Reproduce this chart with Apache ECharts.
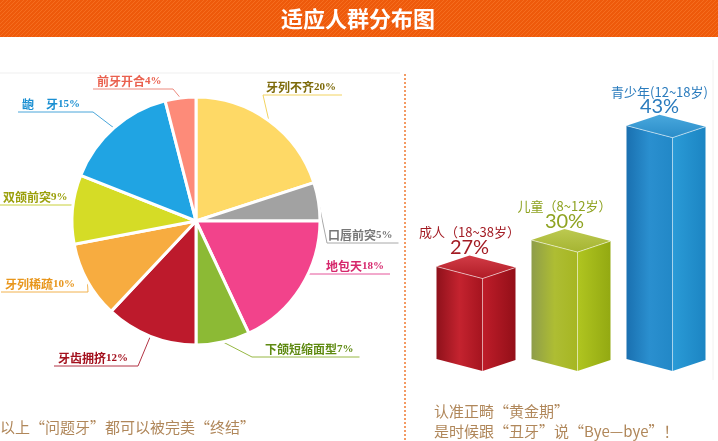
<!DOCTYPE html>
<html>
<head>
<meta charset="utf-8">
<script src="https://cdn.jsdelivr.net/npm/echarts@6/dist/echarts.min.js"></script>
<style>
  html, body { margin: 0; padding: 0; background: #fff; }
  #chart { width: 718px; height: 441px; }
</style>
</head>
<body>
<div id="chart"></div>
<script>
// --- Data ---
const pieNames = ['牙列不齐', '口唇前突', '地包天', '下颌短缩面型', '牙齿拥挤', '牙列稀疏', '双颌前突', '龅　牙', '前牙开合'];
const pieValues = [20, 5, 18, 7, 12, 10, 9, 15, 4];
const ageGroups = ['成人（18~38岁）', '儿童（8~12岁）', '青少年(12~18岁)'];
const ageValues = [27, 30, 43];

// --- Pie styling ---
const sliceColors = ['#fed966', '#a2a2a2', '#f2438b', '#8cba35', '#bd1a2c', '#f7ac40', '#d5dc26', '#20a4e3', '#fd8b79'];
const labelColors = ['#7d6a0a', '#777777', '#d6276c', '#5f8a12', '#a3101d', '#e8961c', '#9ba00c', '#1a8fd2', '#ea604e'];
const leaderColors = ['#f2d360', '#a8a8a8', '#e5559a', '#97b844', '#b23344', '#f2b24e', '#c8d03a', '#4aa6da', '#ec8a7e'];
// label text left x, underline y, elbow x
const labelSpots = [[266, 95, 263], [328, 243, 327], [326, 274, 308], [265, 357, 252], [58, 366, 138], [5, 292, 88], [3, 205, 73], [22, 112, 93], [97, 89, 173]];
const PIE_CX = 196, PIE_CY = 221;

// --- Bar styling (3D boxes) ---
const AGE_MIN = 16.5, AGE_MAX = 50;
const barTextColors = ['#a31c24', '#8fa322', '#2a7bbd'];
const barFaces = [
  { left: ['#8f111b', '#c4232f', '#a5141f'], right: ['#bf1d2a', '#930f18'], top: ['#d23c46', '#b01b26'] },
  { left: ['#8e9d4a', '#aebd33', '#a6b622'], right: ['#b0c520', '#93a912'], top: ['#bcc950', '#a5b432'] },
  { left: ['#1a70b0', '#2a8fcf', '#2288c7'], right: ['#2a9bd7', '#1c85c3'], top: ['#49a8dd', '#2a8cc8'] }
];

function grad(stops, vertical) {
  const n = stops.length - 1;
  return new echarts.graphic.LinearGradient(0, 0, vertical ? 0 : 1, vertical ? 1 : 0,
    stops.map((c, k) => ({ offset: k / n, color: c })));
}

// header stripe texture
const stripe = document.createElement('canvas');
stripe.width = 4; stripe.height = 4;
const sg = stripe.getContext('2d');
sg.fillStyle = '#ee5a0b'; sg.fillRect(0, 0, 4, 4);
sg.strokeStyle = '#f56d1f'; sg.lineWidth = 1;
sg.beginPath(); sg.moveTo(0, 4); sg.lineTo(4, 0); sg.stroke();

const chart = echarts.init(document.getElementById('chart'), null, { renderer: 'canvas' });

const FONT = '"Noto Sans CJK SC", sans-serif';

const pieData = pieNames.map((name, i) => ({
  name,
  value: pieValues[i],
  itemStyle: { color: sliceColors[i] },
  label: {
    color: labelColors[i],
    rich: {
      n: { color: labelColors[i], fontFamily: FONT, fontWeight: 'bold', fontSize: 12, lineHeight: 14 },
      p: { color: labelColors[i], fontFamily: '"Liberation Serif", serif', fontWeight: 'bold', fontSize: 11, lineHeight: 14 }
    }
  },
  labelLine: { lineStyle: { color: leaderColors[i], width: 1 } }
}));

const option = {
  animation: false,
  graphic: [
    { type: 'rect', shape: { x: 0, y: 0, width: 718, height: 37 }, style: { fill: { image: stripe, repeat: 'repeat' } }, z: 0 },
    { type: 'text', x: 358, y: 19, style: { text: '适应人群分布图', fill: '#fff', font: 'bold 22px ' + FONT, align: 'center', verticalAlign: 'middle' } },
    { type: 'line', shape: { x1: 0, y1: 73, x2: 400, y2: 73 }, style: { stroke: '#efefef', lineWidth: 1 } },
    { type: 'line', shape: { x1: 405, y1: 74, x2: 405, y2: 441 }, style: { stroke: '#f07a30', lineWidth: 1.5, lineDash: [2, 2] } },
    { type: 'line', shape: { x1: 713, y1: 60, x2: 713, y2: 380 }, style: { stroke: '#f2f2f2', lineWidth: 1 } },
    { type: 'text', x: 0, y: 427, style: { text: '以上“问题牙”都可以被完美“终结”', fill: '#b0875a', font: '15px ' + FONT, verticalAlign: 'middle' } },
    { type: 'text', x: 434, y: 411, style: { text: '认准正畸“黄金期”', fill: '#b0875a', font: '15px ' + FONT, verticalAlign: 'middle' } },
    { type: 'text', x: 434, y: 431, style: { text: '是时候跟“丑牙”说“Bye—bye”！', fill: '#b0875a', font: '15px ' + FONT, verticalAlign: 'middle' } }
  ],
  grid: { left: 429, right: 4, top: 76, bottom: 70 },
  xAxis: { type: 'category', data: ageGroups, show: false },
  yAxis: { type: 'value', min: AGE_MIN, max: AGE_MAX, show: false },
  series: [
    {
      type: 'pie',
      center: [PIE_CX, PIE_CY],
      radius: 124,
      startAngle: 90,
      clockwise: true,
      avoidLabelOverlap: false,
      silent: true,
      itemStyle: { borderColor: '#fff', borderWidth: 3 },
      label: {
        show: true,
        position: 'outside',
        formatter: (p) => '{n|' + p.name + '}{p|' + p.value + '%}'
      },
      labelLine: { show: true, length: 10, length2: 10 },
      labelLayout: function (p) {
        const [tx, ly, ex] = labelSpots[p.dataIndex];
        const w = p.labelRect.width;
        const right = tx > PIE_CX;
        const end = right ? tx + w + 6 : Math.max(0, tx - 4);
        const a = p.labelLinePoints ? p.labelLinePoints[0] : [ex, ly];
        return {
          x: tx, y: ly - 1, align: 'left', verticalAlign: 'bottom',
          labelLinePoints: [a, [ex, ly], [end, ly]]
        };
      },
      data: pieData
    },
    {
      type: 'custom',
      silent: true,
      data: ageValues.map((v, i) => [i, v]),
      renderItem: function (params, api) {
        const i = params.dataIndex;
        const top = api.coord([api.value(0), api.value(1)]);
        const base = api.coord([api.value(0), AGE_MIN]);
        const fx = top[0] + 6, ty = top[1], by = base[1];
        const L = 46, R = 33, dl = 12, dr = 11;
        const f = barFaces[i];
        const apexX = fx - L + R, apexY = ty - dl - dr;
        return {
          type: 'group',
          children: [
            { type: 'polygon', shape: { points: [[fx - L, ty - dl], [fx, ty], [fx, by], [fx - L, by - dl]] }, style: { fill: grad(f.left) } },
            { type: 'polygon', shape: { points: [[fx, ty], [fx + R, ty - dr], [fx + R, by - dr], [fx, by]] }, style: { fill: grad(f.right) } },
            { type: 'polygon', shape: { points: [[fx - L, ty - dl], [apexX, apexY], [fx + R, ty - dr], [fx, ty]] }, style: { fill: grad(f.top, true) } },
            { type: 'polyline', shape: { points: [[fx - L, ty - dl], [fx, ty], [fx + R, ty - dr]] }, style: { stroke: 'rgba(255,255,255,0.55)', lineWidth: 1, fill: null } },
            { type: 'line', shape: { x1: fx, y1: ty, x2: fx, y2: by }, style: { stroke: 'rgba(255,255,255,0.45)', lineWidth: 1 } },
            { type: 'text', x: apexX, y: apexY - 23, style: { text: ageGroups[i], fill: barTextColors[i], font: '13px ' + FONT, align: 'center', verticalAlign: 'middle' } },
            { type: 'text', x: apexX, y: apexY - 8, style: { text: api.value(1) + '%', fill: barTextColors[i], font: '20px Lato, sans-serif', align: 'center', verticalAlign: 'middle' } }
          ]
        };
      }
    }
  ]
};

chart.setOption(option);
</script>
</body>
</html>
